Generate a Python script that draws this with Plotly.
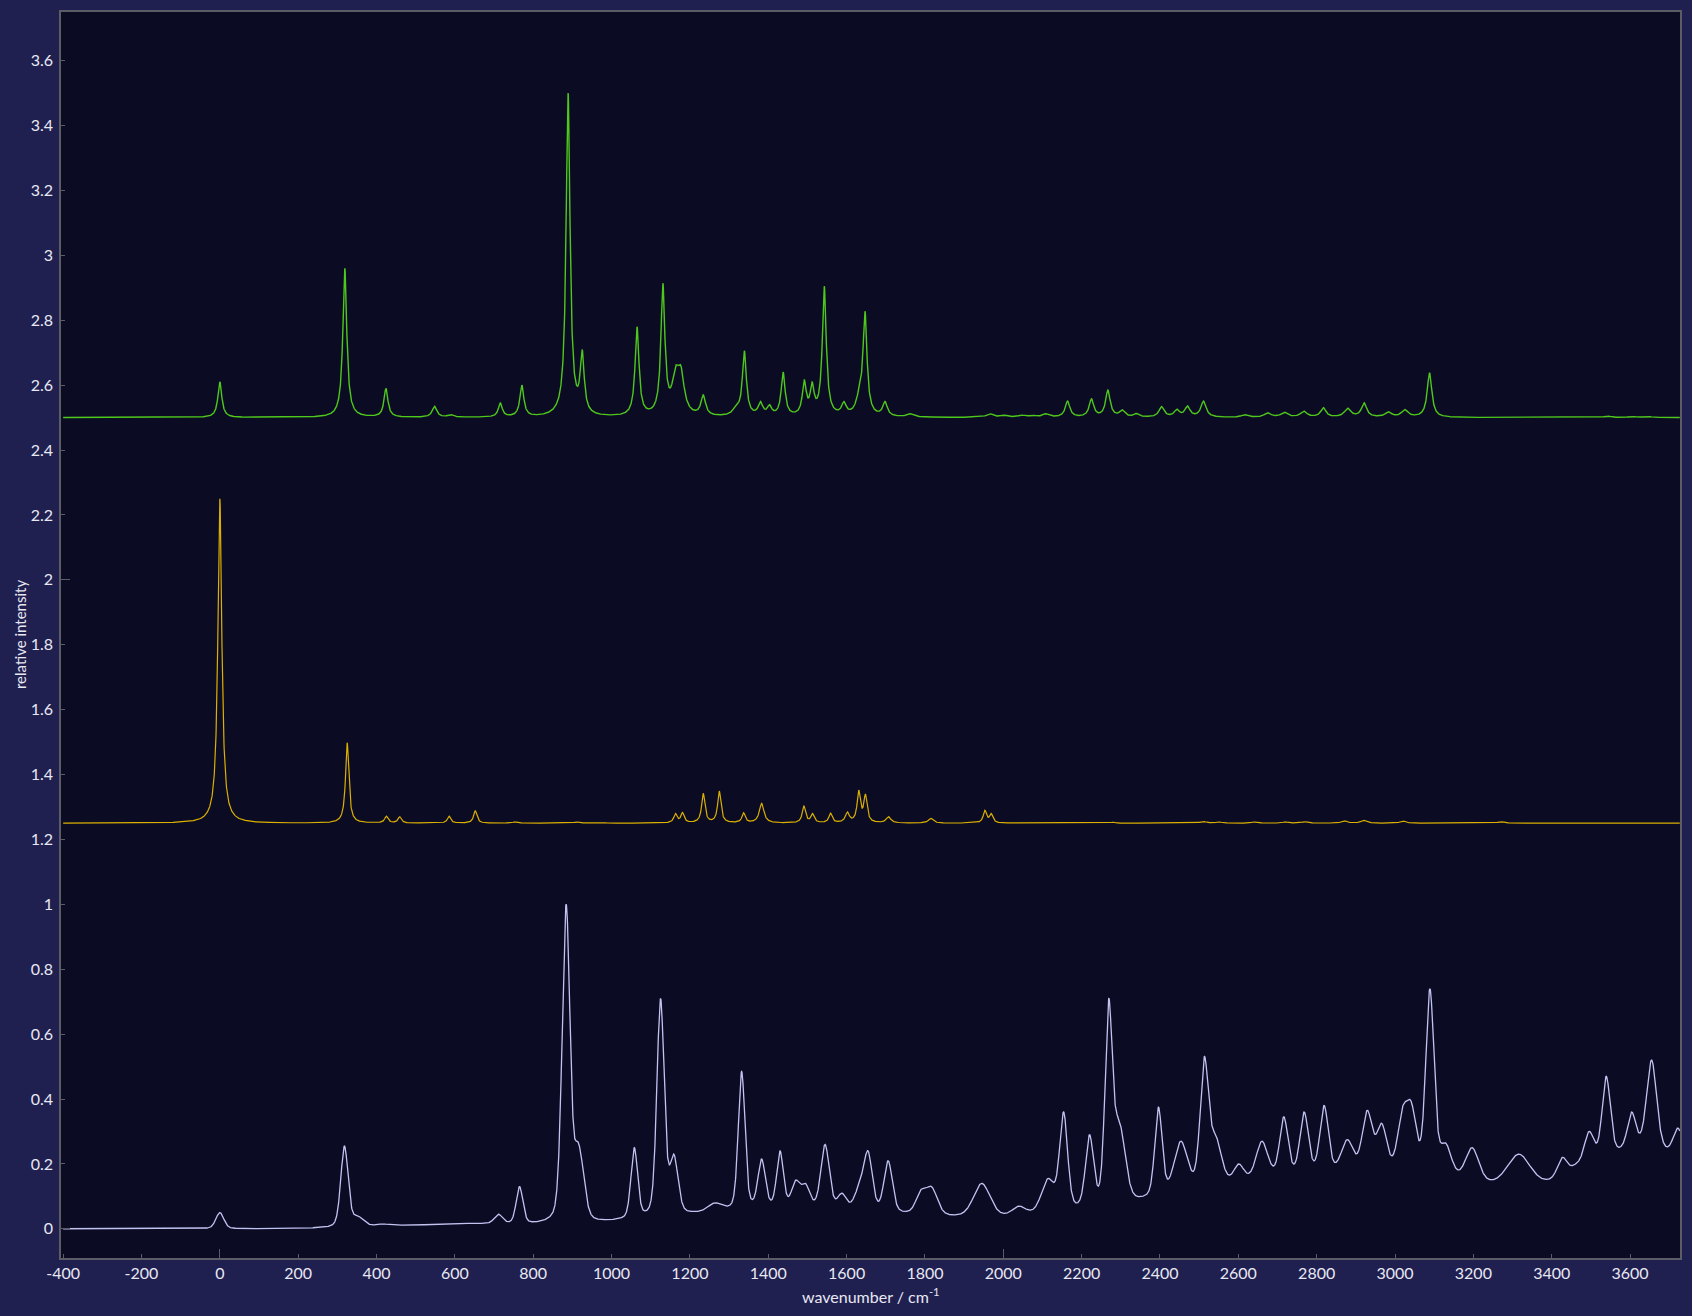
import numpy as np
import plotly.graph_objects as go

# ---------------- data ----------------
# calculated spectrum 1 (green), offset 2.5 ; Lorentzian bands
GREEN_BASE = 2.5
GREEN_CENTERS = [0, 319, 424, 548, 589, 716, 771, 889, 925, 1065, 1131, 1163, 1177, 1234,
                 1318, 1339, 1380, 1403, 1438, 1492, 1512, 1543, 1593, 1633, 1647, 1698,
                 1762, 1965, 2001, 2046, 2074, 2108, 2164, 2225, 2267, 2303, 2340, 2404,
                 2443, 2470, 2511, 2616, 2675, 2717, 2767, 2817, 2879, 2921, 2983, 3025,
                 3088, 3543, 3605, 3645]
GREEN_HEIGHTS = [0.11, 0.46, 0.09, 0.035, 0.01, 0.045, 0.10, 1.0, 0.21, 0.28, 0.414, 0.16,
                 0.16, 0.07, 0.04, 0.206, 0.05, 0.04, 0.14, 0.116, 0.11, 0.405, 0.05, 0.10,
                 0.328, 0.05, 0.012, 0.012, 0.008, 0.008, 0.008, 0.012, 0.051, 0.058, 0.085,
                 0.024, 0.013, 0.034, 0.026, 0.036, 0.051, 0.009, 0.015, 0.017, 0.02, 0.031,
                 0.029, 0.046, 0.018, 0.025, 0.138, 0.005, 0.004, 0.004]
GREEN_WIDTHS = [12, 12, 12, 14, 16, 12, 12, 12, 12, 12, 12, 20, 20, 14, 20, 12, 14, 14, 12,
                12, 12, 12, 14, 20, 12, 14, 20, 20, 20, 20, 20, 20, 14, 14, 14, 16, 16, 16,
                16, 16, 16, 20, 20, 20, 20, 16, 20, 16, 20, 20, 14, 20, 20, 20]

# calculated spectrum 2 (yellow), offset 1.25 ; Lorentzian bands
YELLOW_BASE = 1.25
YELLOW_CENTERS = [0, 325, 425, 459, 585, 652, 753, 911, 978, 1163, 1181, 1234, 1275, 1337,
                  1383, 1491, 1513, 1559, 1602, 1631, 1648, 1707, 1815, 1953, 1969, 2281,
                  2510, 2550, 2640, 2720, 2770, 2870, 2920, 3020, 3270]
YELLOW_HEIGHTS = [1.0, 0.248, 0.022, 0.02, 0.022, 0.038, 0.004, 0.004, 0.003, 0.03, 0.033,
                  0.092, 0.099, 0.032, 0.061, 0.053, 0.03, 0.031, 0.035, 0.102, 0.09, 0.02,
                  0.015, 0.04, 0.03, 0.003, 0.006, 0.004, 0.004, 0.004, 0.005, 0.008, 0.009,
                  0.007, 0.005]
YELLOW_WIDTHS = [12, 10, 10, 10, 10, 10, 14, 14, 14, 10, 10, 10, 10, 10, 14, 10, 10, 10, 12,
                 10, 10, 14, 14, 10, 10, 14, 16, 16, 16, 16, 16, 16, 16, 16, 16]

# experimental spectrum (lavender), offset 0 ; pseudo-Voigt bands on a broad background
EXP_BG_CENTERS = [600, 1450, 2900, 3650]
EXP_BG_AMPS = [0.012, 0.06, 0.17, 0.20]
EXP_BG_WIDTHS = [400, 700, 1060, 350]
EXP_CENTERS = [0, 318, 352, 417, 477, 633, 711, 765, 884, 912, 923, 1058, 1125, 1159, 1263,
               1332, 1383, 1430, 1470, 1495, 1545, 1588, 1634, 1655, 1706, 1789, 1817, 1945,
               2040, 2114, 2154, 2220, 2269, 2291, 2304, 2396, 2453, 2513, 2542, 2601, 2660,
               2716, 2768, 2819, 2878, 2929, 2966, 3019, 3042, 3089, 3129, 3197, 3316, 3427,
               3461, 3495, 3539, 3571, 3604, 3655, 3723]
EXP_HEIGHTS = [0.05, 0.255, 0.04, 0.015, 0.012, 0.017, 0.045, 0.13, 1.0, 0.27, 0.22, 0.25,
               0.71, 0.23, 0.08, 0.485, 0.215, 0.24, 0.15, 0.14, 0.26, 0.11, 0.15, 0.24, 0.21,
               0.12, 0.13, 0.14, 0.07, 0.155, 0.36, 0.29, 0.71, 0.35, 0.29, 0.375, 0.27, 0.53,
               0.29, 0.20, 0.27, 0.345, 0.36, 0.38, 0.275, 0.365, 0.325, 0.375, 0.39, 0.74,
               0.265, 0.25, 0.23, 0.22, 0.20, 0.30, 0.47, 0.25, 0.36, 0.52, 0.31]
EXP_WIDTHS = [24, 22, 35, 40, 40, 80, 25, 20, 24, 20, 25, 20, 22, 25, 40, 20, 22, 20, 25, 25,
              25, 25, 30, 25, 25, 30, 35, 50, 40, 40, 24, 24, 22, 25, 30, 22, 40, 25, 35, 30,
              35, 25, 25, 25, 35, 30, 30, 30, 30, 25, 35, 40, 70, 30, 30, 30, 25, 30, 25, 30,
              30]

X_TICKS = list(range(-400, 3601, 200))
X_TICK_TEXT = [str(v) for v in X_TICKS]          # plain hyphen minus, as in the reference
Y_TICKS = [round(0.2 * i, 1) for i in range(19)]
Y_TICK_TEXT = [("%g" % v) for v in Y_TICKS]

# ---------------- band shapes ----------------
X = np.arange(-400.0, 3727.5, 0.5)


def lorentz(x, c, w):
    return 1.0 / (1.0 + ((x - c) / (w / 2.0)) ** 2)


def gauss(x, c, w):
    s = w / 2.3548
    return np.exp(-0.5 * ((x - c) / s) ** 2)


def pvoigt(x, c, w, eta=0.3):
    return eta * lorentz(x, c, w) + (1 - eta) * gauss(x, c, w)


def fit_amplitudes(centers, heights, widths, shape, offset):
    """Amplitudes such that the summed curve passes through the read peak heights."""
    c = np.asarray(centers, float)
    w = np.asarray(widths, float)
    h = np.asarray(heights, float) - offset
    M = shape(c[:, None], c[None, :], w[None, :])
    a = np.clip(h.copy(), 0, None)
    for _ in range(400):
        for i in range(len(a)):
            others = M[i] @ a - M[i, i] * a[i]
            a[i] = max(0.0, h[i] - others)
    return a


def build(centers, heights, widths, shape, offset_fn):
    c = np.asarray(centers, float)
    w = np.asarray(widths, float)
    amps = fit_amplitudes(centers, heights, widths, shape, offset_fn(c))
    return offset_fn(X) + (amps[None, :] * shape(X[:, None], c[None, :], w[None, :])).sum(axis=1)


def zero(x):
    return np.zeros_like(np.asarray(x, float))


def exp_background(x):
    x = np.asarray(x, float)
    out = np.zeros_like(x)
    for c, a, w in zip(EXP_BG_CENTERS, EXP_BG_AMPS, EXP_BG_WIDTHS):
        out = out + a * gauss(x, c, w)
    return out


y_green = build(GREEN_CENTERS, GREEN_HEIGHTS, GREEN_WIDTHS, lorentz, zero) + GREEN_BASE
y_yellow = build(YELLOW_CENTERS, YELLOW_HEIGHTS, YELLOW_WIDTHS, lorentz, zero) + YELLOW_BASE
y_exp = build(EXP_CENTERS, EXP_HEIGHTS, EXP_WIDTHS, pvoigt, exp_background)

# ---------------- figure ----------------
XR = [-405.5, 3727.5]
YR = [-0.09, 3.75]
FONT = "Lato, 'Open Sans', sans-serif"
TXT = "#e8e8f2"
AX = "#5c5c66"

fig = go.Figure()
fig.add_trace(go.Scatter(x=X, y=y_exp, mode="lines", line=dict(color="#c3c3f2", width=1.3),
                         showlegend=False, name="experiment"))
fig.add_trace(go.Scatter(x=X, y=y_yellow, mode="lines", line=dict(color="#dcb000", width=1.2),
                         showlegend=False, name="calc 2"))
fig.add_trace(go.Scatter(x=X, y=y_green, mode="lines", line=dict(color="#4fc81c", width=1.4),
                         showlegend=False, name="calc 1"))
fig.add_trace(go.Scatter(x=[None], y=[None], xaxis="x2", yaxis="y2", showlegend=False,
                         hoverinfo="skip"))

fig.update_layout(
    width=1692, height=1316,
    margin=dict(l=61, r=11, t=10, b=58),
    paper_bgcolor="#1f1f50",
    plot_bgcolor="#0b0c24",
    font=dict(family=FONT, color=TXT, size=16),
    xaxis=dict(range=XR, tickvals=X_TICKS, ticktext=X_TICK_TEXT, ticks="inside", ticklen=4,
               tickcolor=AX, showgrid=False, zeroline=False, showline=True, linecolor=AX,
               linewidth=1.5, mirror=True, tickfont=dict(size=16, color=TXT)),
    yaxis=dict(range=YR, tickvals=Y_TICKS, ticktext=Y_TICK_TEXT, ticks="inside", ticklen=4,
               tickcolor=AX, showgrid=False, zeroline=False, showline=True, linecolor=AX,
               linewidth=1.5, mirror=True, tickfont=dict(size=16, color=TXT), ticklabelstandoff=3),
    xaxis2=dict(range=XR, overlaying="x", anchor="y", side="bottom", tickvals=[0, 2000],
                ticks="inside", ticklen=9, tickcolor=AX, showticklabels=False, showgrid=False,
                zeroline=False, showline=False),
    yaxis2=dict(range=YR, overlaying="y", anchor="x", side="left", tickvals=[0, 2],
                ticks="inside", ticklen=9, tickcolor=AX, showticklabels=False, showgrid=False,
                zeroline=False, showline=False),
    annotations=[
        dict(text="wavenumber / cm<sup>-1</sup>", xref="paper", yref="paper", x=0.5, y=-0.0304,
             xanchor="center", yanchor="middle", showarrow=False, font=dict(size=16, color=TXT)),
        dict(text="relative intensity", xref="paper", yref="paper", x=-0.0253, y=0.5,
             xanchor="center", yanchor="middle", textangle=-90, showarrow=False,
             font=dict(size=15, color=TXT)),
    ],
)

fig.write_html(
    "out.html",
    config={"displayModeBar": False},
    post_script="document.body.style.margin='0';document.body.style.background='#1f1f50';",
)
